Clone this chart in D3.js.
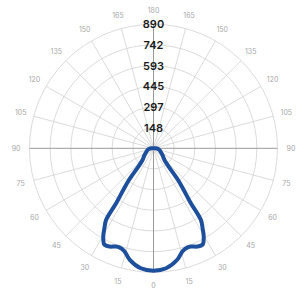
<!DOCTYPE html>
<html>
<head>
<meta charset="utf-8">
<script src="https://cdn.jsdelivr.net/npm/d3@7"></script>
<style>
  html, body { margin: 0; padding: 0; background: #fff; }
  svg { display: block; }
</style>
</head>
<body>
<div id="chart"></div>
<script>
// intensity rings (cd) and angle labels
const RING_VALUES = [148, 297, 445, 593, 742, 890];
const ANGLE_TICKS = [0, 15, 30, 45, 60, 75, 90, 105, 120, 135, 150, 165, 180];

// one half of the curve, 0 = straight down, 90 = horizontal
const CURVE_ANGLES = [0, 6, 12, 16, 19, 21, 24, 27, 29.6, 31.5, 33.5, 34.3, 36, 37.7, 39.6, 43, 46, 53, 62, 74, 82, 90];
const CURVE_VALUES = [878, 866, 818, 765, 752, 755, 772, 776, 730, 675, 617, 470, 366, 288, 171, 117, 102, 81, 60, 45, 32, 14];

const width = 296, height = 289;
const cx = 153.5, cy = 148.3;
const maxR = 124;

const svg = d3.select("#chart").append("svg")
    .attr("width", width)
    .attr("height", height);

const g = svg.append("g").attr("transform", `translate(${cx},${cy})`);

const r = d3.scaleLinear().domain([0, 890]).range([0, maxR]);
const toRad = d => d * Math.PI / 180;

// rings
g.selectAll("circle.ring")
    .data(RING_VALUES)
    .join("circle")
    .attr("class", "ring")
    .attr("r", d => r(d))
    .attr("fill", "none")
    .attr("stroke", "#d2d2d2")
    .attr("stroke-width", 0.8);

// spokes every 15 degrees (angles measured from straight down)
const spokes = d3.range(0, 360, 15);
g.selectAll("line.spoke")
    .data(spokes)
    .join("line")
    .attr("class", "spoke")
    .attr("x1", 0).attr("y1", 0)
    .attr("x2", d => -Math.sin(toRad(d)) * maxR)
    .attr("y2", d => Math.cos(toRad(d)) * maxR)
    .attr("stroke", d => d % 90 === 0 ? "#9a9a9a" : "#d2d2d2")
    .attr("stroke-width", d => d % 90 === 0 ? 1 : 0.8);

// angle labels on both sides
const labelR = 137.5;
const angleLabels = [];
ANGLE_TICKS.forEach(a => {
    angleLabels.push({ a: a, side: -1 });
    if (a !== 0 && a !== 180) angleLabels.push({ a: a, side: 1 });
});
g.selectAll("text.angle")
    .data(angleLabels)
    .join("text")
    .attr("class", "angle")
    .attr("x", d => d.side * Math.sin(toRad(d.a)) * labelR)
    .attr("y", d => Math.cos(toRad(d.a)) * labelR)
    .attr("text-anchor", "middle")
    .attr("dominant-baseline", "central")
    .style("font-family", "Inter, 'Open Sans', sans-serif")
    .style("font-size", "7px")
    .style("fill", "#a8a8a8")
    .text(d => d.a);

// intensity curve, mirrored to both sides
const half = CURVE_ANGLES.map((a, i) => ({ a: a, v: CURVE_VALUES[i] }));
const pts = half.slice().reverse().map(d => ({ a: -d.a, v: d.v }))
    .concat(half.slice(1));
const radial = d3.lineRadial()
    .angle(d => Math.PI - toRad(d.a))
    .radius(d => r(d.v))
    .curve(d3.curveCatmullRomClosed);

g.append("path")
    .datum(pts)
    .attr("d", radial)
    .attr("fill", "none")
    .attr("stroke", "#1d4f9c")
    .attr("stroke-width", 4)
    .attr("stroke-linejoin", "round");

// ring value labels along the top axis
g.selectAll("text.ringlab")
    .data(RING_VALUES)
    .join("text")
    .attr("class", "ringlab")
    .attr("x", 0)
    .attr("y", d => -r(d))
    .attr("text-anchor", "middle")
    .attr("dominant-baseline", "central")
    .style("font-family", "Inter, 'Open Sans', sans-serif")
    .style("font-size", "11px")
    .style("font-weight", 600)
    .style("fill", "#1a1a1a")
    .text(d => d);
</script>
</body>
</html>
